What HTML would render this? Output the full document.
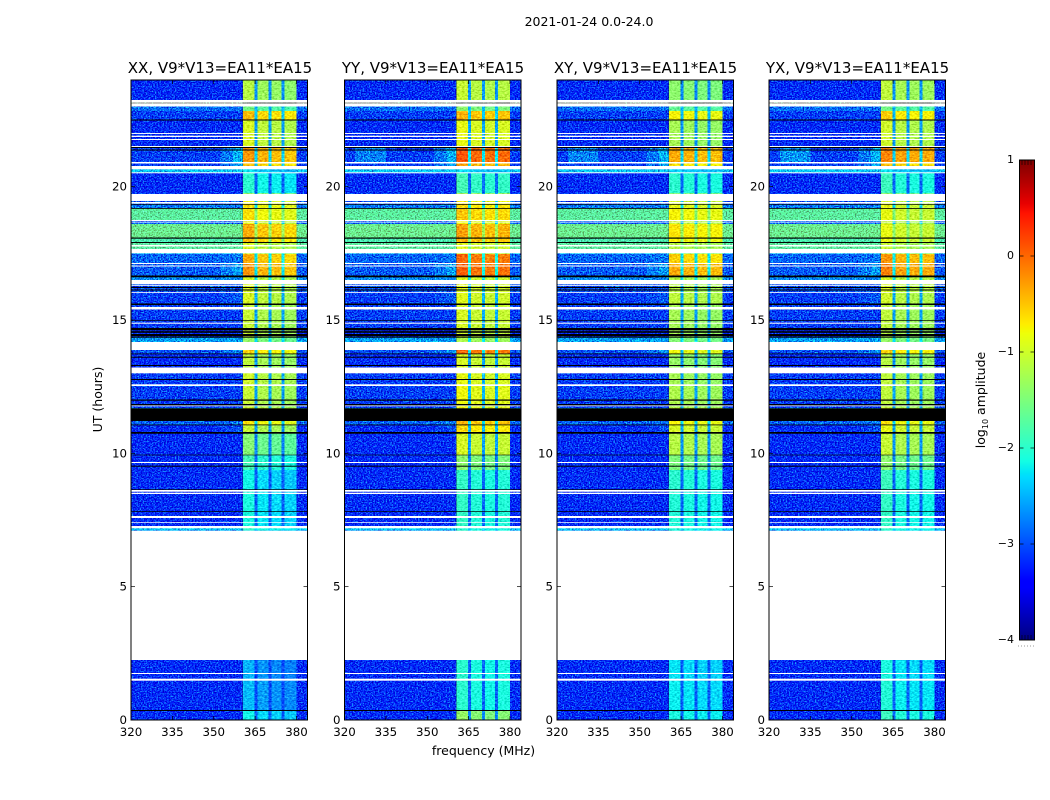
<!DOCTYPE html>
<html lang="en">
<head>
<meta charset="utf-8">
<title>2021-01-24 0.0-24.0</title>
<style>
html,body{margin:0;padding:0;background:#fff;width:1050px;height:800px;overflow:hidden}
svg{display:block}
text{font-family:"DejaVu Sans","Liberation Sans",sans-serif;fill:#000}
.tick{font-size:11.8px}
.ptitle{font-size:15px;text-anchor:middle}
</style>
</head>
<body>
<svg id="chart" xmlns="http://www.w3.org/2000/svg" width="1050" height="800" viewBox="0 0 1050 800">
  <defs>
    <filter id="grain" x="0" y="0" width="100%" height="100%" color-interpolation-filters="sRGB">
      <feTurbulence type="fractalNoise" baseFrequency="0.65 0.8" numOctaves="2" seed="4" result="n"/>
      <feColorMatrix in="n" type="matrix" values="0.4 0 0 0 0.3  2 0 0 0 -0.5  1 0 0 0 0  0 0 0 0 1" result="m"/>
      <feComposite in="SourceGraphic" in2="m" operator="arithmetic" k1="0" k2="1" k3="1" k4="-0.5"/>
    </filter>
    <filter id="grain-soft" x="0" y="0" width="100%" height="100%" color-interpolation-filters="sRGB">
      <feTurbulence type="fractalNoise" baseFrequency="0.4 0.7" numOctaves="2" seed="9" result="n"/>
      <feColorMatrix in="n" type="matrix" values="0.5 0 0 0 0.25  0.7 0 0 0 0.15  0.5 0 0 0 0.25  0 0 0 0 1" result="m"/>
      <feComposite in="SourceGraphic" in2="m" operator="arithmetic" k1="0" k2="1" k3="1" k4="-0.5"/>
    </filter>
  </defs>
  <rect width="1050" height="800" fill="#fff"/>
  <text x="589" y="26" text-anchor="middle" style="font-size:12.5px">2021-01-24 0.0-24.0</text>
  <text x="483.5" y="755" text-anchor="middle" style="font-size:12.5px">frequency (MHz)</text>
  <text transform="translate(102,399.5) rotate(-90)" text-anchor="middle" style="font-size:12.5px">UT (hours)</text>
  <text transform="translate(985,400) rotate(-90)" text-anchor="middle" style="font-size:12.5px">log<tspan dy="3" style="font-size:8px">10</tspan><tspan dy="-3"> amplitude</tspan></text>
  <g id="panels"></g>
  <g id="colorbar"></g>
</svg>
<script>
/* ---- chart data (log10 amplitude) ---- */
const panelNames = ['XX', 'YY', 'XY', 'YX'];
const panelTitleText = 'V9*V13=EA11*EA15';
const freqTicks = [320, 335, 350, 365, 380];
const utTicks = [0, 5, 10, 15, 20];
const colorTicks = [1, 0, -1, -2, -3, -4];

/* spectral windows in MHz */
const signalBlocks = [[360.6, 364.8], [365.8, 369.9], [371, 374.5], [375.6, 380]];

/* time bands in UT hours, with the levels observed in each */
const bandStart = [23.25,22.84,22.48,21.52,20.89,20.66,20.53,19.74,19.35,19.18,18.75,18.6,18.09,17.89,17.62,17.48,17.14,16.67,16.5,16.05,15.62,14.66,14.36,13.88,13.73,13.01,12.6,11.7,11.21,11.06,10.76,9.94,9.37,8.62,7.2,7.1,2.25,1.5,0.38,0];
const bandEnd   = [24,23.02,22.84,22.48,21.52,20.89,20.66,20.53,19.74,19.35,19.18,18.75,18.6,18.09,17.89,17.62,17.48,17.14,16.67,16.5,16.05,15.62,14.66,14.36,13.88,13.73,13.01,12.6,11.7,11.21,11.06,10.76,9.94,9.37,8.62,7.2,7.1,2.25,1.5,0.38];
const background = [-3.2,-2.85,-3.1,-3.2,-3.1,-3.1,-2.4,-3.2,-3,-2.8,-1.7,-2.9,-1.6,-1.8,-1.7,-2.5,-2.9,-2.95,-2.7,-3,-3.1,-3.1,-3.2,-2.6,-3,-3.2,-3.1,-3.1,-2.5,-2.9,-3.2,-3.2,-3.2,-3.2,-3.2,-2.4,-3.15,-3.2,-3.2,-3.2];
const preBandRamp = [-3.2,-2.85,-3.1,-3.2,-2.5,-2.6,-2.4,-3.2,-3,-2.8,-1.7,-2.9,-1.6,-1.8,-1.7,-2.5,-2.8,-2.6,-2.7,-3,-2.95,-3.1,-3.2,-2.6,-2.7,-3.2,-3.1,-3.1,-2.5,-2.8,-3,-3.2,-3.2,-3.2,-3.2,-2.4,-3.15,-3.2,-3.2,-3.2];
const signalXX = [-1.3,-1.7,-0.6,-1.1,-0.4,-0.6,-2.4,-2.15,-0.9,-0.8,-0.8,-1,-0.5,-0.6,-1.1,-1.2,-0.5,-0.4,-1.1,-1.1,-1.1,-1.2,-1.2,-1.5,-0.7,-1.25,-1.15,-1.2,-0.9,-0.8,-1.2,-1.6,-2,-2.3,-2.25,-2.1,-2.7,-2.65,-2.6,-2.3];
const signalYY = [-1.15,-1.5,-0.5,-0.95,0,-0.4,-2.4,-1.95,-0.8,-0.7,-0.6,-0.9,-0.4,-0.5,-1,-1.1,-0.1,-0.05,-1,-1,-1,-1.05,-1.1,-1.3,-0.1,-1.05,-0.95,-0.9,-0.7,-0.5,-0.7,-1.05,-1.5,-2.05,-2.05,-2.1,-2,-2.1,-2.1,-1.45];
const signalXY = [-1.45,-1.7,-0.8,-1.3,-0.4,-0.7,-2.4,-2.05,-1,-0.9,-0.8,-1.1,-0.7,-0.8,-1.2,-1.3,-0.6,-0.4,-1.2,-1.2,-1.15,-1.3,-1.3,-1.5,-0.85,-1.4,-1.3,-1.25,-0.9,-0.8,-1,-1.2,-1.55,-2.05,-2.1,-2.1,-2.3,-2.3,-2.25,-2.15];
const signalYX = [-1.25,-1.7,-0.7,-1.15,-0.3,-0.6,-2.4,-2.05,-1.1,-1,-1,-1.2,-1,-1,-1.2,-1.3,-0.4,-0.3,-1.1,-1.1,-1.15,-1.25,-1.3,-1.5,-0.7,-1.3,-1.25,-1.25,-0.9,-0.8,-1,-1.2,-1.55,-2.05,-2.1,-2.1,-2.35,-2.25,-2.2,-2.05];
const signalByPanel = [signalXX, signalYY, signalXY, signalYX];

/* small per-window level differences, one row per panel */
const blockOffsets = [[0.15,0,-0.05,-0.1],[0.1,0,-0.05,0],[0.05,0,-0.05,-0.05],[0.15,0,-0.05,-0.05]];

/* faint patch near 325-335 MHz at about 21 UT, one level per panel */
const leftPatchBandIndex = 4;
const leftPatchRange = [324, 335];
const leftPatchLevels = [-3.1, -2.75, -2.75, -2.65];

/* flagged (white) and zero-amplitude (black) time ranges in UT hours */
const flaggedRanges = [[23.156,23.25],[23.006,23.119],[21.975,22.01],[21.863,21.911],[21.75,21.788],[21.488,21.525],[20.869,20.925],[20.651,20.775],[20.501,20.539],[19.463,19.725],[19.365,19.425],[18.713,18.75],[18.656,18.686],[17.756,17.813],[17.501,17.663],[17.1,17.138],[17.006,17.044],[16.339,16.5],[16.283,16.313],[16.02,16.05],[15.394,15.488],[14.861,14.899],[13.875,14.175],[13.001,13.219],[12.525,12.589],[11.764,11.794],[9.638,9.675],[8.561,8.625],[8.475,8.524],[7.575,7.65],[7.399,7.425],[7.189,7.275],[2.25,7.099],[1.725,1.763],[1.474,1.549]];
const blackRanges = [[22.481,22.519],[21.45,21.488],[21.356,21.394],[19.324,19.35],[19.17,19.2],[18.049,18.094],[17.888,17.925],[16.601,16.669],[16.2,16.238],[16.106,16.144],[15.563,15.619],[14.974,15],[14.614,14.7],[14.52,14.58],[14.381,14.475],[14.325,14.351],[13.714,13.744],[13.586,13.624],[13.275,13.313],[12.75,12.788],[11.974,12.019],[11.801,11.85],[11.213,11.689],[11.051,11.081],[10.736,10.8],[9.926,9.949],[9.499,9.536],[8.625,8.651],[7.8,7.826],[0.338,0.375]];

/* ---- layout ---- */
const panelLeft = [131, 344.5, 557, 769];
const panelWidth = 176.5;
const plotTop = 80, plotBottom = 720;
const titleCenter = [220, 433, 645.5, 857.5];
const cbLeft = 1019.5, cbWidth = 15, cbTop = 160, cbBottom = 640;
const NS = 'http://www.w3.org/2000/svg';

function mk(parent, tag, attrs) {
  const el = document.createElementNS(NS, tag);
  for (const k in attrs) el.setAttribute(k, attrs[k]);
  parent.appendChild(el);
  return el;
}
function interp(stops, t) {
  if (t <= stops[0][0]) return stops[0][1];
  for (let i = 1; i < stops.length; i++) {
    if (t <= stops[i][0]) {
      const a = stops[i - 1], b = stops[i];
      return a[1] + (b[1] - a[1]) * (t - a[0]) / (b[0] - a[0]);
    }
  }
  return stops[stops.length - 1][1];
}
function jet(v) {
  const t = Math.max(0, Math.min(1, (v + 4) / 5));
  const r = interp([[0.35,0],[0.66,1],[0.89,1],[1,0.5]], t);
  const g = interp([[0.125,0],[0.375,1],[0.64,1],[0.91,0]], t);
  const b = interp([[0,0.5],[0.11,1],[0.34,1],[0.65,0]], t);
  return 'rgb(' + Math.round(r * 255) + ',' + Math.round(g * 255) + ',' + Math.round(b * 255) + ')';
}
function yScale(h) { return plotBottom - h * (plotBottom - plotTop) / 24; }
function xScale(p, f) { return panelLeft[p] + (f - 320) * panelWidth / 64; }
function cbScale(v) { return cbBottom - (v + 4) * (cbBottom - cbTop) / 5; }

const panelsGroup = document.getElementById('panels');

function drawCell(g, p, f0, f1, h0, h1, val) {
  const r = mk(g, 'rect', {
    x: xScale(p, f0), width: xScale(p, f1) - xScale(p, f0),
    y: yScale(h1), height: yScale(h0) - yScale(h1),
    fill: jet(val), 'shape-rendering': 'crispEdges'
  });
  
  
}

panelNames.forEach(function (name, p) {
  const panel = mk(panelsGroup, 'g', {});
  
  

  const title = mk(panel, 'text', { x: titleCenter[p], y: 73, 'class': 'ptitle' });
  
  
  title.textContent = name + ', ' + panelTitleText;

  const bgCells = mk(panel, 'g', { filter: 'url(#grain)' });
  
  
  const sigCells = mk(panel, 'g', { filter: 'url(#grain-soft)' });
  
  

  const sig = signalByPanel[p];
  bandStart.forEach(function (h0, i) {
    const h1 = bandEnd[i], bg = background[i], s = sig[i], ramp = preBandRamp[i];
    const gap = bg * 0.72 + s * 0.28;
    drawCell(bgCells, p, 320, 352.5, h0, h1, bg);
    drawCell(bgCells, p, 352.5, 357, h0, h1, (bg + ramp) / 2);
    drawCell(bgCells, p, 357, signalBlocks[0][0], h0, h1, ramp);
    if (i === leftPatchBandIndex) {
      drawCell(bgCells, p, leftPatchRange[0], leftPatchRange[1], h0, h1, leftPatchLevels[p]);
    }
    drawCell(bgCells, p, signalBlocks[3][1], 384, h0, h1, bg);
    signalBlocks.forEach(function (b, k) {
      drawCell(sigCells, p, b[0], b[1], h0, h1, s + blockOffsets[p][k]);
      if (k < signalBlocks.length - 1) drawCell(sigCells, p, b[1], signalBlocks[k + 1][0], h0, h1, gap);
    });
  });

  flaggedRanges.forEach(function (rg) {
    const r = mk(panel, 'rect', { x: xScale(p, 320), width: panelWidth, y: yScale(rg[1]), height: yScale(rg[0]) - yScale(rg[1]), fill: '#fff' });
    
    
  });
  blackRanges.forEach(function (rg) {
    const r = mk(panel, 'rect', { x: xScale(p, 320), width: panelWidth, y: yScale(rg[1]), height: yScale(rg[0]) - yScale(rg[1]), fill: '#000' });
    
    
  });

  const frame = mk(panel, 'rect', { x: panelLeft[p], y: plotTop, width: panelWidth, height: plotBottom - plotTop, fill: 'none', stroke: '#000', 'stroke-width': 1 });
  
  

  freqTicks.forEach(function (f) {
    const x = xScale(p, f);
    const t1 = mk(panel, 'line', { x1: x, x2: x, y1: plotBottom, y2: plotBottom - 4, stroke: '#000', 'stroke-width': 0.7 });
    
    
    const t2 = mk(panel, 'line', { x1: x, x2: x, y1: plotTop, y2: plotTop + 4, stroke: '#000', 'stroke-width': 0.7 });
    
    
    const lab = mk(panel, 'text', { x: x, y: 736, 'text-anchor': 'middle', 'class': 'tick' });
    
    
    lab.textContent = f;
  });
  utTicks.forEach(function (h) {
    const y = yScale(h), l = panelLeft[p], rr = l + panelWidth;
    const t1 = mk(panel, 'line', { x1: l, x2: l + 4, y1: y, y2: y, stroke: '#000', 'stroke-width': 0.7 });
    
    
    const t2 = mk(panel, 'line', { x1: rr, x2: rr - 4, y1: y, y2: y, stroke: '#000', 'stroke-width': 0.7 });
    
    
    const lab = mk(panel, 'text', { x: l - 4, y: y + 4, 'text-anchor': 'end', 'class': 'tick' });
    
    
    lab.textContent = h;
  });
});

/* colorbar */
const cb = document.getElementById('colorbar');
for (let i = 0; i < 240; i++) {
  const v0 = -4 + i * 5 / 240, v1 = -4 + (i + 1) * 5 / 240;
  const s = mk(cb, 'rect', { x: cbLeft, width: cbWidth, y: cbScale(v1), height: cbScale(v0) - cbScale(v1) + 0.5, fill: jet((v0 + v1) / 2), 'shape-rendering': 'crispEdges' });
  
  
}
const cbFrame = mk(cb, 'rect', { x: cbLeft, y: cbTop, width: cbWidth, height: cbBottom - cbTop, fill: 'none', stroke: '#000', 'stroke-width': 1 });


colorTicks.forEach(function (v) {
  const y = cbScale(v);
  const a = mk(cb, 'line', { x1: cbLeft, x2: cbLeft + 4, y1: y, y2: y, stroke: '#000', 'stroke-width': 0.7 });
  
  
  const b = mk(cb, 'line', { x1: cbLeft + cbWidth, x2: cbLeft + cbWidth - 4, y1: y, y2: y, stroke: '#000', 'stroke-width': 0.7 });
  
  
  const t = mk(cb, 'text', { x: cbLeft - 5.5, y: y + 3, 'text-anchor': 'end', style: 'font-size:11px' });
  
  
  t.textContent = String(v).replace('-', '\u2212');
});
[1022, 1025, 1028, 1031].forEach(function (x) {
  const top = mk(cb, 'line', { x1: x, x2: x, y1: cbTop, y2: cbTop + 5, stroke: '#000', 'stroke-width': 0.6 });
  
  
  const bottom = mk(cb, 'line', { x1: x, x2: x, y1: cbBottom, y2: cbBottom - 5, stroke: '#000', 'stroke-width': 0.6 });
  
  
});
[1018, 1021, 1024, 1027, 1030, 1033].forEach(function (x) {
  const d = mk(cb, 'rect', { x: x, y: 645.5, width: 1, height: 1, fill: '#999' });
  
  
});
</script>
</body>
</html>
